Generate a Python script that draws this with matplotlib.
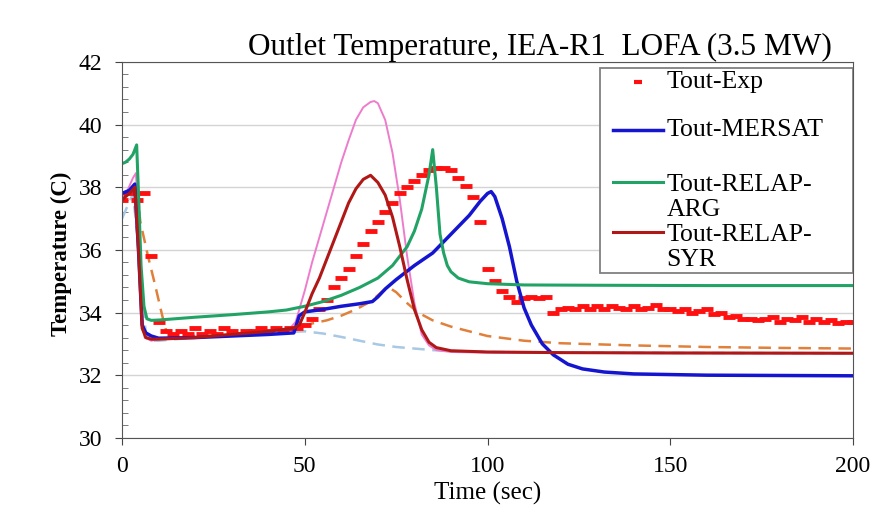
import matplotlib.pyplot as plt
import numpy as np
from matplotlib.patches import Rectangle
from matplotlib.lines import Line2D

plt.rcParams['font.family'] = ['Liberation Serif', 'DejaVu Serif']

# measured outlet temperature, sampled every 2 s
t_exp = np.arange(0, 201, 2)
T_exp = [37.6, 37.8, 37.6, 37.8, 35.8, 33.7, 33.4, 33.3, 33.4, 33.3,
         33.5, 33.3, 33.4, 33.3, 33.5, 33.4, 33.3, 33.4, 33.4, 33.5,
         33.4, 33.5, 33.4, 33.5, 33.5, 33.6, 33.8, 34.1, 34.4, 34.8,
         35.1, 35.4, 35.8, 36.2, 36.6, 36.9, 37.2, 37.5, 37.8, 38.0,
         38.2, 38.4, 38.55, 38.6, 38.6, 38.55, 38.3, 38.05, 37.7, 36.9,
         35.4, 35.0, 34.7, 34.5, 34.35, 34.45, 34.5, 34.45, 34.5, 34.0,
         34.1, 34.15, 34.1, 34.2, 34.1, 34.2, 34.1, 34.2, 34.15, 34.1,
         34.2, 34.1, 34.15, 34.25, 34.1, 34.1, 34.05, 34.1, 34.0, 34.05,
         34.1, 33.95, 34.0, 33.85, 33.9, 33.8, 33.8, 33.75, 33.8, 33.85,
         33.7, 33.8, 33.75, 33.85, 33.7, 33.8, 33.7, 33.75, 33.65, 33.7,
         33.7]

t_mersat = [0, 2, 3.5, 4.5, 5.5, 6.5, 8, 10, 20, 30, 40, 47, 48.5, 50, 55, 60, 65,
            68.5, 70, 72, 75, 80, 85, 90, 95, 98, 100, 101, 102, 104, 106, 108,
            110, 112, 115, 118, 122, 126, 132, 140, 160, 200]
T_mersat = [37.8, 37.9, 38.1, 36.0, 33.6, 33.35, 33.25, 33.18, 33.2, 33.25, 33.3,
            33.35, 33.9, 34.02, 34.1, 34.2, 34.28, 34.35, 34.5, 34.75, 35.05, 35.5,
            35.9, 36.5, 37.1, 37.55, 37.8, 37.86, 37.7, 37.0, 36.1, 35.0, 34.15,
            33.6, 33.0, 32.65, 32.35, 32.2, 32.1, 32.04, 32.0, 31.98]

t_arg = [0, 1, 2, 3, 4, 4.6, 5.2, 6, 6.8, 8, 10, 20, 30, 40, 45, 50, 55, 60, 65,
         70, 74, 78, 80, 82, 84, 85, 86, 87, 88, 89, 90, 92, 95, 100, 110, 130,
         160, 200]
T_arg = [38.75, 38.8, 38.9, 39.05, 39.35, 37.5, 35.5, 34.2, 33.8, 33.75, 33.76,
         33.85, 33.93, 34.02, 34.08, 34.2, 34.35, 34.55, 34.8, 35.1, 35.5, 36.1,
         36.6, 37.3, 38.4, 39.2, 38.0, 36.5, 35.9, 35.5, 35.3, 35.1, 34.98, 34.92,
         34.88, 34.87, 34.86, 34.86]

t_syr = [0, 2, 3.5, 4.5, 5.5, 6.5, 8, 10, 20, 30, 40, 47, 48.5, 50, 52, 54, 56, 58,
         60, 62, 64, 66, 68, 70, 72, 74, 76, 78, 80, 82, 84, 86, 90, 100, 120, 150,
         200]
T_syr = [37.6, 37.8, 38.0, 36.0, 33.5, 33.2, 33.15, 33.15, 33.2, 33.3, 33.4, 33.5,
         33.6, 34.0, 34.6, 35.1, 35.7, 36.3, 36.9, 37.5, 37.95, 38.25, 38.38, 38.15,
         37.75, 37.05, 36.1, 35.05, 34.1, 33.45, 33.05, 32.88, 32.78, 32.74, 32.72,
         32.71, 32.7]

t_pink = [0, 1.5, 3, 3.8, 4.6, 5.4, 6.2, 8, 10, 20, 30, 40, 46, 47.5, 50, 52, 54,
          56, 58, 60, 62, 64, 66, 68, 69, 70, 72, 74, 76, 78, 80, 82, 84, 86, 90,
          100, 150, 200]
T_pink = [37.6, 37.9, 38.3, 38.45, 36.5, 34.0, 33.2, 33.1, 33.15, 33.2, 33.3, 33.4,
          33.5, 33.7, 34.7, 35.6, 36.4, 37.2, 38.0, 38.8, 39.5, 40.15, 40.55, 40.72,
          40.75, 40.68, 40.15, 39.1, 37.6, 35.8, 34.3, 33.3, 32.95, 32.8, 32.74,
          32.72, 32.7, 32.7]

t_orange = [0, 2, 4, 5, 7, 9, 11, 12, 14, 20, 30, 40, 48, 52, 56, 60, 64, 68, 71,
            73, 75, 78, 81, 85, 90, 95, 100, 110, 120, 140, 160, 180, 200]
T_orange = [37.8, 37.9, 38.0, 36.9, 35.85, 34.9, 33.9, 33.45, 33.3, 33.25, 33.3,
            33.35, 33.5, 33.65, 33.75, 33.9, 34.1, 34.35, 34.65, 34.8, 34.65, 34.3,
            34.0, 33.75, 33.55, 33.4, 33.25, 33.1, 33.02, 32.95, 32.9, 32.87, 32.85]

t_lblue = [0, 3, 5, 6.5, 8, 10, 20, 30, 40, 50, 55, 60, 65, 70, 75, 80, 85, 90,
           100, 120, 150, 200]
T_lblue = [37.0, 37.8, 35.5, 33.3, 33.1, 33.1, 33.2, 33.28, 33.35, 33.4, 33.33,
           33.22, 33.1, 32.98, 32.9, 32.85, 32.8, 32.77, 32.74, 32.72, 32.71, 32.7]

legend_labels = ['Tout-Exp', 'Tout-MERSAT', 'Tout-RELAP-\nARG', 'Tout-RELAP-\nSYR']

fig = plt.figure(figsize=(8.78, 5.2), dpi=100)
ax = fig.add_axes([0.139, 0.158, 0.8325, 0.723])

ax.plot(t_lblue, T_lblue, color='#a8c8e4', lw=1.8, dashes=(5, 3))
ax.plot(t_orange, T_orange, color='#e0803a', lw=1.8, dashes=(5, 3))
ax.plot(t_pink, T_pink, color='#ee7ccc', lw=1.4)
exp_line, = ax.plot(t_exp, T_exp, ls='none', marker='_', ms=8, mew=3.5,
                    color='#ff1010')
mer_line, = ax.plot(t_mersat, T_mersat, color='#1515d0', lw=2.5)
arg_line, = ax.plot(t_arg, T_arg, color='#22a366', lw=2.2)
syr_line, = ax.plot(t_syr, T_syr, color='#b01818', lw=2.2)

ax.set_xlim(0, 200)
ax.set_ylim(30, 42)
ax.set_xticks([0, 50, 100, 150, 200])
ax.set_yticks(np.arange(30, 43, 2))
ax.set_yticks(np.arange(30, 42.01, 0.4), minor=True)
ax.tick_params(axis='both', which='major', direction='out', labelsize=17,
               length=5, color='#444444')
ax.tick_params(axis='x', which='major', pad=8)
ax.tick_params(axis='y', which='major', pad=9)
ax.tick_params(axis='y', which='minor', direction='in', length=4, color='#666666')
ax.grid(axis='y', which='major', color='#d4d4d4', lw=1)
ax.set_axisbelow(True)
for s in ax.spines.values():
    s.set_color('#555555')

ax.set_xlabel('Time (sec)', fontsize=18)
ax.xaxis.set_label_coords(0.5, -0.118)
ax.set_ylabel('Temperature (C)', fontsize=16.5, fontweight='bold')
ax.yaxis.set_label_coords(-0.068, 0.49)
ax.set_title('Outlet Temperature, IEA-R1  LOFA (3.5 MW)', fontsize=22.5,
             x=0.572, pad=1)

# legend box drawn by hand so the wrapped labels overlap like fixed-height rows
tr = ax.transAxes
ax.add_patch(Rectangle((0.654, 0.439), 0.346, 0.545, transform=tr,
                       facecolor='white', edgecolor='#808080', lw=1.3, zorder=5))
hx0, hx1, tx = 0.672, 0.740, 0.745
row_y = [0.947, 0.819, 0.681, 0.548]
text_y = [0.947, 0.819, 0.640, 0.507]
for handle, lab, yh, yt in zip([exp_line, mer_line, arg_line, syr_line],
                               legend_labels, row_y, text_y):
    if handle is exp_line:
        ax.add_line(Line2D([(hx0 + hx1) / 2], [yh], transform=tr, ls='none',
                           marker='_', ms=6, mew=3, color=handle.get_color(),
                           zorder=6))
    else:
        ax.add_line(Line2D([hx0, hx1], [yh, yh], transform=tr,
                           color=handle.get_color(), lw=handle.get_linewidth(),
                           zorder=6))
    ax.text(tx, yt, lab, transform=tr, fontsize=18.5, va='center', ha='left',
            linespacing=1.15, zorder=6)

fig.savefig('out.png', dpi=100)
